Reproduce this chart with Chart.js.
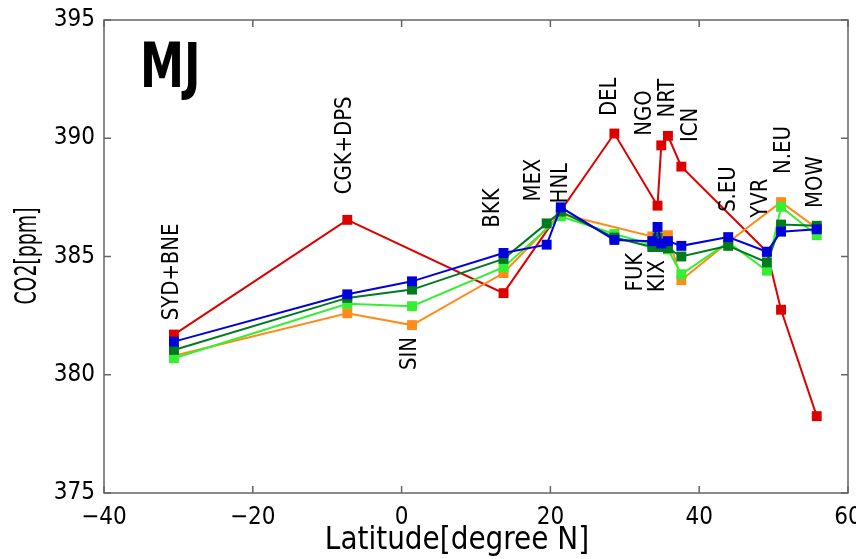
<!DOCTYPE html>
<html>
<head>
<meta charset="utf-8">
<script src="https://cdn.jsdelivr.net/npm/chart.js@4"></script>
<style>
  body { margin: 0; background: #fff; }
</style>
</head>
<body>
<canvas id="chart1" width="856" height="559"></canvas>
<script>
// stations, ordered by latitude
const stations = ['SYD+BNE', 'CGK+DPS', 'SIN', 'BKK', 'MEX', 'HNL', 'DEL', 'FUK', 'KIX', 'NGO', 'NRT', 'ICN', 'S.EU', 'YVR', 'N.EU', 'MOW'];
const latitude = [-30.6, -7.3, 1.4, 13.7, 19.5, 21.4, 28.6, 33.7, 34.4, 34.9, 35.8, 37.6, 43.9, 49.1, 51.0, 55.8];

// CO2 [ppm] per series (null = no value at that station)
const redSeries    = [381.7, 386.55, null, 383.45, null, null, 390.2, null, 387.15, 389.7, 390.1, 388.8, null, 385.2, 382.75, 378.25];
const orangeSeries = [380.8, 382.6, 382.1, 384.3, null, 386.8, null, 385.85, 385.9, 385.8, 385.9, 384.0, 385.6, null, 387.3, 386.2];
const greenSeries  = [380.7, 383.0, 382.9, 384.55, null, 386.7, 385.95, 385.5, 385.6, 385.4, 385.3, 384.25, 385.6, 384.4, 387.1, 385.9];
const dkGreenSeries = [381.05, 383.25, 383.6, 384.9, 386.4, 386.9, 385.8, 385.4, 385.8, 385.4, 385.35, 385.0, 385.45, 384.75, 386.35, 386.3];
const blueSeries   = [381.4, 383.4, 383.95, 385.15, 385.5, 387.08, 385.7, 385.65, 386.25, 385.55, 385.65, 385.45, 385.82, 385.2, 386.05, 386.15];

// where each station name is written (latitude, ppm of the text centre)
const labelLat = [-30.85, -7.56, 1.18, 12.35, 17.74, 21.37, 27.97, 31.47, 34.43, 32.68, 35.77, 38.87, 43.98, 48.29, 51.39, 55.69];
const labelPpm = [384.35, 389.7, 380.9, 387.05, 388.23, 388.1, 391.75, 384.34, 384.17, 391.07, 391.7, 390.56, 387.85, 387.47, 389.5, 388.15];

const FONT = "'DejaVu Sans Condensed', 'DejaVu Sans', sans-serif";

function toPoints(values) {
  let pts = [];
  for (let i = 0; i < values.length; i++) {
    pts.push({ x: latitude[i], y: values[i] });
  }
  return pts;
}

function makeSet(label, color, values) {
  return {
    label: label,
    data: toPoints(values),
    borderColor: color,
    backgroundColor: color,
    borderWidth: 2,
    pointStyle: 'rect',
    pointRadius: 7,
    pointBorderWidth: 0,
    spanGaps: true,
    clip: false
  };
}

// squeezed text, the original uses a tall narrow font
function narrowText(ctx, text, x, y, angle, squeeze) {
  ctx.save();
  ctx.translate(x, y);
  ctx.rotate(angle);
  ctx.scale(squeeze, 1);
  ctx.fillText(text, 0, 0);
  ctx.restore();
}

// frame with inward ticks, station names and axis titles
const framePlugin = {
  id: 'frame',
  beforeDatasetsDraw(chart) {
    const ctx = chart.ctx;
    const a = chart.chartArea;
    const xs = chart.scales.x;
    const ys = chart.scales.y;
    ctx.save();
    ctx.strokeStyle = '#666';
    ctx.lineWidth = 1.5;
    ctx.strokeRect(a.left, a.top, a.right - a.left, a.bottom - a.top);
    ctx.beginPath();
    xs.ticks.forEach(t => {
      const px = xs.getPixelForValue(t.value);
      ctx.moveTo(px, a.bottom); ctx.lineTo(px, a.bottom - 7);
      ctx.moveTo(px, a.top); ctx.lineTo(px, a.top + 7);
    });
    ys.ticks.forEach(t => {
      const py = ys.getPixelForValue(t.value);
      ctx.moveTo(a.left, py); ctx.lineTo(a.left + 7, py);
      ctx.moveTo(a.right, py); ctx.lineTo(a.right - 7, py);
    });
    ctx.stroke();

    ctx.fillStyle = '#000';
    ctx.textAlign = 'center';
    ctx.textBaseline = 'middle';
    ctx.font = '32px ' + FONT;
    narrowText(ctx, 'Latitude[degree N]', 457, 541, 0, 0.97);
    ctx.font = '30px ' + FONT;
    narrowText(ctx, 'CO2[ppm]', 28, 256, -Math.PI / 2, 0.7);
    ctx.restore();
  },
  afterDatasetsDraw(chart) {
    const ctx = chart.ctx;
    const xs = chart.scales.x;
    const ys = chart.scales.y;
    ctx.save();
    ctx.fillStyle = '#000';
    ctx.textAlign = 'center';
    ctx.textBaseline = 'middle';
    ctx.font = '23px ' + FONT;
    for (let i = 0; i < stations.length; i++) {
      narrowText(ctx, stations[i], xs.getPixelForValue(labelLat[i]), ys.getPixelForValue(labelPpm[i]), -Math.PI / 2, 0.95);
    }
    ctx.font = 'bold 63px ' + FONT;
    narrowText(ctx, 'MJ', xs.getPixelForValue(-31.1), ys.getPixelForValue(392.85), 0, 0.78);
    ctx.restore();
  }
};

const ctx = document.getElementById('chart1').getContext('2d');

const chart1 = new Chart(ctx, {
  type: 'line',
  data: {
    datasets: [
      makeSet('blue', '#0000dd', blueSeries),
      makeSet('dark green', '#007a1e', dkGreenSeries),
      makeSet('green', '#33f033', greenSeries),
      makeSet('orange', '#ff8c1a', orangeSeries),
      makeSet('red', '#dd0000', redSeries)
    ]
  },
  options: {
    responsive: false,
    animation: false,
    layout: {
      padding: { top: 20, right: 8, left: 0, bottom: 0 }
    },
    plugins: {
      legend: { display: false },
      tooltip: { enabled: false }
    },
    scales: {
      x: {
        type: 'linear',
        min: -40,
        max: 60,
        afterFit(scale) {
          scale.height = 66;
          scale.paddingLeft = 0;
          scale.paddingRight = 0;
        },
        grid: { display: false, drawTicks: false },
        border: { display: false },
        ticks: {
          stepSize: 20,
          color: '#000',
          padding: 10,
          maxRotation: 0,
          font: { family: FONT, size: 24 },
          callback: v => v < 0 ? '\u2212' + Math.abs(v) : v
        }
      },
      y: {
        type: 'linear',
        min: 375,
        max: 395,
        afterFit(scale) {
          scale.width = 104;
          scale.paddingTop = 0;
          scale.paddingBottom = 0;
        },
        grid: { display: false, drawTicks: false },
        border: { display: false },
        ticks: {
          stepSize: 5,
          color: '#000',
          padding: 9,
          font: { family: FONT, size: 24 }
        }
      }
    }
  },
  plugins: [framePlugin]
});
</script>
</body>
</html>
